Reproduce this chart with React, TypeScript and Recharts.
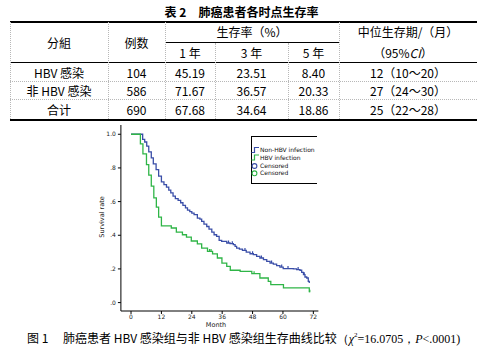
import React from "react";
import { ComposedChart, Line, Scatter, XAxis, YAxis } from "recharts";

// ---------- table data ----------
const groups = ["HBV 感染", "非 HBV 感染", "合计"];
const cases = ["104", "586", "690"];
const rate1 = ["45.19", "71.67", "67.68"];
const rate3 = ["23.51", "36.57", "34.64"];
const rate5 = ["8.40", "20.33", "18.86"];
const medians = ["12（10～20）", "27（24～30）", "25（22～28）"];

// ---------- survival curves ----------
const nonHbvTime = [0, 4.6, 5.4, 6.2, 7.0, 8.0, 8.8, 9.9, 10.9, 12.0, 13.0, 14.0, 14.9, 15.7, 16.6, 17.5, 18.6, 19.6, 20.5, 21.5, 22.3, 23.2, 24.0, 24.9, 26.2, 27.2, 27.9, 28.8, 29.9, 30.8, 31.9, 32.8, 33.8, 34.8, 35.8, 37.8, 39.1, 40.4, 41.1, 41.7, 42.8, 44.0, 45.5, 47.0, 48.3, 49.6, 50.9, 52.3, 53.6, 54.9, 56.2, 57.5, 58.8, 60.1, 64.1, 65.4, 66.7, 67.4, 68.1, 68.7, 69.4, 70.0, 70.4];
const nonHbvSurv = [1.0, 0.97, 0.954, 0.929, 0.895, 0.86, 0.824, 0.79, 0.751, 0.717, 0.701, 0.686, 0.668, 0.652, 0.632, 0.618, 0.607, 0.593, 0.577, 0.563, 0.549, 0.54, 0.532, 0.522, 0.502, 0.496, 0.482, 0.466, 0.452, 0.437, 0.419, 0.403, 0.393, 0.369, 0.364, 0.354, 0.35, 0.344, 0.334, 0.324, 0.318, 0.31, 0.3, 0.29, 0.285, 0.275, 0.265, 0.255, 0.245, 0.235, 0.229, 0.219, 0.211, 0.202, 0.2, 0.196, 0.192, 0.18, 0.166, 0.152, 0.146, 0.126, 0.117];

const hbvTime = [0, 3.7, 4.7, 6.1, 7.0, 8.0, 9.0, 10.0, 10.9, 12.0, 15.9, 17.9, 20.3, 21.9, 23.8, 26.2, 27.9, 30.2, 32.2, 34.1, 35.9, 37.8, 39.2, 43.1, 47.7, 50.9, 54.2, 55.2, 60.2, 70.4];
const hbvSurv = [1.0, 0.943, 0.883, 0.82, 0.757, 0.692, 0.622, 0.567, 0.508, 0.456, 0.443, 0.419, 0.403, 0.389, 0.366, 0.349, 0.324, 0.304, 0.289, 0.265, 0.235, 0.215, 0.192, 0.186, 0.172, 0.146, 0.126, 0.107, 0.087, 0.061];

const nonHbvCensorTime = [38.5, 40.0, 45.0, 48.0, 51.5, 55.5, 59.5, 62.0, 66.0, 68.4];
const hbvCensorTime = [31.0, 31.6, 48.6, 70.6];

const xTicks = [0, 12, 24, 36, 48, 60, 72];
const yTicks = [0, 0.2, 0.4, 0.6, 0.8, 1.0];
const yTickLabels: Record<string, string> = { "0": ".0", "0.2": ".2", "0.4": ".4", "0.6": ".6", "0.8": ".8", "1": "1.0" };

const legendItems = ["Non-HBV infection", "HBV infection", "Censored", "Censored"];

const BLUE = "#3a4ea8";
const GREEN = "#2fb547";

const nonHbvData = nonHbvTime.map((t, i) => ({ t, s: nonHbvSurv[i] }));
const hbvData = hbvTime.map((t, i) => ({ t, s: hbvSurv[i] }));
const stepAt = (times: number[], surv: number[], t: number) => {
  let v = surv[0];
  for (let i = 0; i < times.length; i++) if (times[i] <= t) v = surv[i];
  return v;
};
const nonHbvCensor = nonHbvCensorTime.map((t) => ({ t, s: stepAt(nonHbvTime, nonHbvSurv, t) }));
const hbvCensor = hbvCensorTime.map((t) => ({ t, s: stepAt(hbvTime, hbvSurv, t) }));

const CJK = '"Noto Sans CJK SC", "Noto Sans", sans-serif';

const colBounds: [number, number][] = [
  [10, 108],
  [108, 165],
  [165, 215],
  [215, 288],
  [288, 339],
  [339, 477],
];

function Txt({ x1, x2, cy, children, style }: { x1: number; x2: number; cy: number; children: React.ReactNode; style?: React.CSSProperties }) {
  return (
    <div
      style={{
        position: "absolute",
        left: x1,
        width: x2 - x1,
        top: cy - 8,
        height: 16,
        lineHeight: "16px",
        textAlign: "center",
        fontSize: 12,
        fontFamily: CJK,
        color: "#000",
        whiteSpace: "nowrap",
        ...style,
      }}
    >
      {children}
    </div>
  );
}

function HLine({ x, y, w, h = 1, dashed = false }: { x: number; y: number; w: number; h?: number; dashed?: boolean }) {
  return (
    <div
      style={{
        position: "absolute",
        left: x,
        top: y,
        width: w,
        height: dashed ? 0 : h,
        background: dashed ? "transparent" : "#000",
        borderTop: dashed ? "1px dotted #b8b8b8" : undefined,
      }}
    />
  );
}

function VLine({ x, y1, y2 }: { x: number; y1: number; y2: number }) {
  return (
    <div
      style={{
        position: "absolute",
        left: x,
        top: y1,
        width: 0,
        height: y2 - y1,
        borderLeft: "1px dotted #b8b8b8",
      }}
    />
  );
}

const CensorShape = (color: string) => (props: any) => {
  const { cx, cy } = props;
  if (cx == null || cy == null) return <g />;
  return <line x1={cx} y1={cy - 2.5} x2={cx} y2={cy} stroke={color} strokeWidth={1.2} />;
};

export default function App() {
  const rowY = [72.7, 90.7, 110];
  return (
    <div style={{ position: "absolute", left: 0, top: 0, width: 483, height: 351, background: "#fff", overflow: "hidden" }}>
      {/* title */}
      <Txt x1={0} x2={483} cy={12} style={{ fontWeight: "bold" }}>
        表 2　肺癌患者各时点生存率
      </Txt>

      {/* table rules */}
      <HLine x={10} y={20.5} w={467} h={2} />
      <HLine x={165} y={42} w={174} />
      <HLine x={10} y={62} w={467} />
      <HLine x={10} y={81} w={467} dashed />
      <HLine x={10} y={99} w={467} dashed />
      <HLine x={10} y={119} w={467} h={2} />
      <VLine x={10} y1={22} y2={119} />
      <VLine x={108} y1={22} y2={119} />
      <VLine x={165} y1={22} y2={119} />
      <VLine x={215} y1={43} y2={119} />
      <VLine x={288} y1={43} y2={119} />
      <VLine x={339} y1={22} y2={119} />

      {/* header */}
      <Txt x1={colBounds[0][0]} x2={colBounds[0][1]} cy={43}>分組</Txt>
      <Txt x1={colBounds[1][0]} x2={colBounds[1][1]} cy={43}>例数</Txt>
      <Txt x1={165} x2={339} cy={32}>生存率（%）</Txt>
      <Txt x1={colBounds[2][0]} x2={colBounds[2][1]} cy={53}>1 年</Txt>
      <Txt x1={colBounds[3][0]} x2={colBounds[3][1]} cy={53}>3 年</Txt>
      <Txt x1={colBounds[4][0]} x2={colBounds[4][1]} cy={53}>5 年</Txt>
      <Txt x1={colBounds[5][0]} x2={colBounds[5][1]} cy={32}>中位生存期/（月）</Txt>
      <Txt x1={colBounds[5][0] - 10} x2={colBounds[5][1]} cy={53}>
        （95%<i>CI</i>）
      </Txt>

      {/* body rows */}
      {groups.map((g, i) => (
        <React.Fragment key={g}>
          <Txt x1={colBounds[0][0]} x2={colBounds[0][1]} cy={rowY[i]}>{g}</Txt>
          <Txt x1={colBounds[1][0]} x2={colBounds[1][1]} cy={rowY[i]}>{cases[i]}</Txt>
          <Txt x1={colBounds[2][0]} x2={colBounds[2][1]} cy={rowY[i]}>{rate1[i]}</Txt>
          <Txt x1={colBounds[3][0]} x2={colBounds[3][1]} cy={rowY[i]}>{rate3[i]}</Txt>
          <Txt x1={colBounds[4][0]} x2={colBounds[4][1]} cy={rowY[i]}>{rate5[i]}</Txt>
          <Txt x1={colBounds[5][0]} x2={colBounds[5][1]} cy={rowY[i]}>{medians[i]}</Txt>
        </React.Fragment>
      ))}

      {/* chart */}
      <div style={{ position: "absolute", left: 0, top: 118 }}>
        <ComposedChart width={483} height={233} margin={{ top: 7, right: 164.6, bottom: 20, left: 100.9 }}>
          <XAxis
            type="number"
            dataKey="t"
            domain={[-4, 74]}
            ticks={xTicks}
            height={20}
            tickSize={3}
            tickMargin={1}
            stroke="#000"
            tick={{ fontSize: 6, fill: "#222", fontFamily: "DejaVu Sans" }}
            allowDataOverflow
          />
          <YAxis
            type="number"
            dataKey="s"
            domain={[-0.05, 1.055]}
            ticks={yTicks}
            width={20}
            tickSize={3}
            tickMargin={2}
            stroke="#000"
            tickFormatter={(v: number) => yTickLabels[String(v)] ?? String(v)}
            tick={{ fontSize: 6, fill: "#222", fontFamily: "DejaVu Sans" }}
            allowDataOverflow
          />
          <Line data={nonHbvData} dataKey="s" type="stepAfter" stroke={BLUE} strokeWidth={1.3} dot={false} isAnimationActive={false} />
          <Line data={hbvData} dataKey="s" type="stepAfter" stroke={GREEN} strokeWidth={1.3} dot={false} isAnimationActive={false} />
          <Scatter data={nonHbvCensor} dataKey="s" shape={CensorShape(BLUE)} isAnimationActive={false} />
          <Scatter data={hbvCensor} dataKey="s" shape={CensorShape(GREEN)} isAnimationActive={false} />
        </ComposedChart>
      </div>

      {/* axis titles */}
      <div style={{ position: "absolute", left: 196, top: 321, width: 40, height: 8, textAlign: "center", fontSize: 6.5, fontFamily: "DejaVu Sans", color: "#222", lineHeight: "8px" }}>
        Month
      </div>
      <div
        style={{
          position: "absolute",
          left: 102 - 30,
          top: 217 - 4,
          width: 60,
          height: 8,
          textAlign: "center",
          fontSize: 6.5,
          lineHeight: "8px",
          fontFamily: "DejaVu Sans",
          color: "#222",
          transform: "rotate(-90deg)",
        }}
      >
        Survival rate
      </div>

      {/* legend */}
      <div style={{ position: "absolute", left: 251, top: 136, width: 65, height: 46, borderTop: "1px solid #000", borderBottom: "1px solid #000", borderLeft: "1px solid #000" }} />
      <svg style={{ position: "absolute", left: 250, top: 144 }} width={12} height={34}>
        <path d="M1.5 8.5 H4.5 V3.5 H9" stroke={BLUE} strokeWidth={1.2} fill="none" />
        <path d="M1.5 16 H4.5 V11 H9" stroke={GREEN} strokeWidth={1.2} fill="none" />
        <circle cx={4.5} cy={22} r={2.4} stroke={BLUE} strokeWidth={1.1} fill="none" />
        <circle cx={4.5} cy={29.3} r={2.4} stroke={GREEN} strokeWidth={1.1} fill="none" />
      </svg>
      {legendItems.map((t, i) => (
        <div
          key={i}
          style={{
            position: "absolute",
            left: 260,
            top: [150, 157.5, 166, 173.3][i] - 4,
            height: 8,
            lineHeight: "8px",
            fontSize: 6,
            fontFamily: "DejaVu Sans",
            color: "#111",
            whiteSpace: "nowrap",
          }}
        >
          {t}
        </div>
      ))}

      {/* caption */}
      <div style={{ position: "absolute", left: 27, top: 331, height: 13, lineHeight: "13px", fontSize: 12, fontFamily: CJK, color: "#000", whiteSpace: "nowrap" }}>
        图 1　 肺癌患者 HBV 感染组与非 HBV 感染组生存曲线比较
        <span style={{ fontFamily: '"Liberation Serif", serif' }}>
          （<i>χ</i>
          <sup style={{ fontSize: 7, verticalAlign: "6px", lineHeight: 0 }}>2</sup>=16.0705，<i>P</i>&lt;.0001)
        </span>
      </div>
    </div>
  );
}
